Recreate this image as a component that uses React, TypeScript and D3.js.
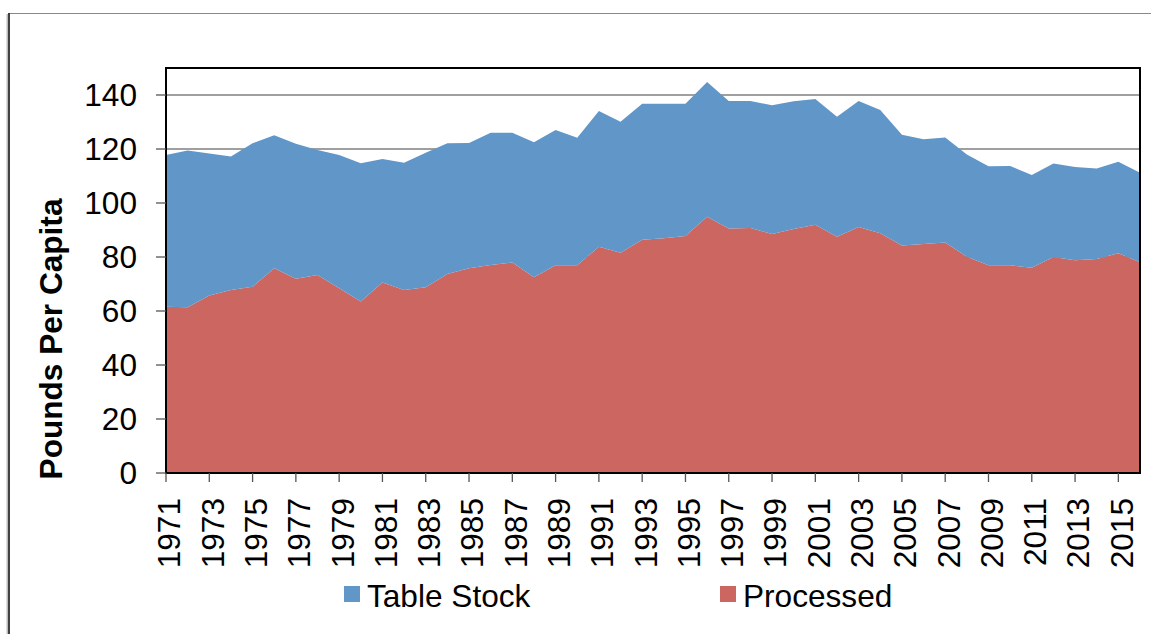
import React from "react";
import * as d3 from "d3";

const years: number[] = d3.range(1971, 2017);
const processed: number[] = [
  61.6, 61.4, 65.7, 67.8, 69.0, 75.8, 71.9, 73.3, 68.4, 63.5,
  70.6, 67.8, 68.8, 73.7, 75.8, 77.0, 78.0, 72.5, 76.9, 76.9,
  83.8, 81.6, 86.4, 86.9, 87.8, 94.9, 90.6, 90.7, 88.5, 90.4,
  91.9, 87.5, 91.1, 88.8, 84.3, 84.8, 85.4, 80.1, 76.9, 76.9,
  76.0, 80.0, 78.8, 79.3, 81.4, 78.1,
];
const tableStock: number[] = [
  56.2, 58.0, 52.6, 49.4, 53.1, 49.3, 50.0, 46.3, 49.4, 51.2,
  45.7, 47.1, 49.8, 48.4, 46.4, 49.0, 48.0, 50.0, 50.1, 47.3,
  50.3, 48.5, 50.4, 49.9, 49.0, 49.9, 47.2, 47.1, 47.7, 47.3,
  46.6, 44.4, 46.7, 45.6, 41.0, 38.8, 38.9, 37.9, 36.7, 36.8,
  34.4, 34.6, 34.5, 33.5, 33.9, 33.1,
];
const yTicks: number[] = [0, 20, 40, 60, 80, 100, 120, 140];
const xTickYears: number[] = d3.range(1971, 2017, 2);
const seriesNames: string[] = ["Processed", "Table Stock"];
const colors: string[] = ["#CC6660", "#6096C8"];

const W = 1151;
const H = 634;
const L = 166, R = 1140, T = 68, B = 473;
const FONT = "'Liberation Sans', Arial, sans-serif";
const FS = 31.6;

export default function App() {
  const x = d3.scaleLinear().domain([1971, 2016]).range([L, R]);
  const y = d3.scaleLinear().domain([0, 150]).range([B, T]);

  const rows = years.map((yr, i) => ({ year: yr, Processed: processed[i], "Table Stock": tableStock[i] }));
  const stack = d3.stack<any>().keys(seriesNames);
  const stacked = stack(rows);
  const area = d3
    .area<any>()
    .x((d) => x(d.data.year))
    .y0((d) => y(d[0]))
    .y1((d) => y(d[1]));

  return (
    <svg
      width={W}
      height={H}
      style={{ position: "absolute", left: 0, top: 0, background: "#fff" }}
      fontFamily={FONT}
    >
      {/* outer frame */}
      <rect x={0} y={0} width={W} height={H} fill="#fff" />
      <line x1={9} y1={13.5} x2={W} y2={13.5} stroke="#888" strokeWidth={1} />
      <line x1={6.5} y1={14} x2={6.5} y2={H} stroke="#ddd" strokeWidth={1} />
      <line x1={7.5} y1={14} x2={7.5} y2={H} stroke="#bbb" strokeWidth={1} />
      <line x1={9} y1={13} x2={9} y2={H} stroke="#111" strokeWidth={1.6} />

      {/* gridlines */}
      {yTicks.filter((t) => t > 0).map((t) => (
        <line key={"g" + t} x1={L} x2={R} y1={y(t)} y2={y(t)} stroke="#7f7f7f" strokeWidth={1.3} />
      ))}

      {/* areas */}
      {stacked.map((s, i) => (
        <path key={s.key} d={area(s) || ""} fill={colors[i]} />
      ))}

      {/* plot border */}
      <rect x={L} y={T} width={R - L} height={B - T} fill="none" stroke="#000" strokeWidth={2} />

      {/* y ticks and labels */}
      {yTicks.map((t) => (
        <g key={"y" + t}>
          <line x1={156} x2={L} y1={y(t)} y2={y(t)} stroke="#555" strokeWidth={1.3} />
          <text x={137} y={y(t)} dy="0.36em" textAnchor="end" fontSize={FS} fill="#000">
            {t}
          </text>
        </g>
      ))}

      {/* x ticks and labels */}
      {xTickYears.map((yr) => (
        <g key={"x" + yr}>
          <line x1={x(yr)} x2={x(yr)} y1={B} y2={B + 9} stroke="#555" strokeWidth={1.3} />
          <text
            transform={`translate(${x(yr) + 3},498) rotate(-90)`}
            dy="0.36em"
            textAnchor="end"
            fontSize={FS}
            fill="#000"
          >
            {yr}
          </text>
        </g>
      ))}

      {/* y axis title */}
      <text
        transform="translate(51,339) rotate(-90)"
        dy="0.36em"
        textAnchor="middle"
        fontSize={FS}
        fontWeight="bold"
        fill="#000"
      >
        Pounds Per Capita
      </text>

      {/* legend */}
      <rect x={344} y={586} width={16} height={16} fill={colors[1]} />
      <text x={367} y={606.5} fontSize={FS} fill="#000">Table Stock</text>
      <rect x={720} y={586} width={16} height={16} fill={colors[0]} />
      <text x={743} y={606.5} fontSize={FS} fill="#000">Processed</text>
    </svg>
  );
}
